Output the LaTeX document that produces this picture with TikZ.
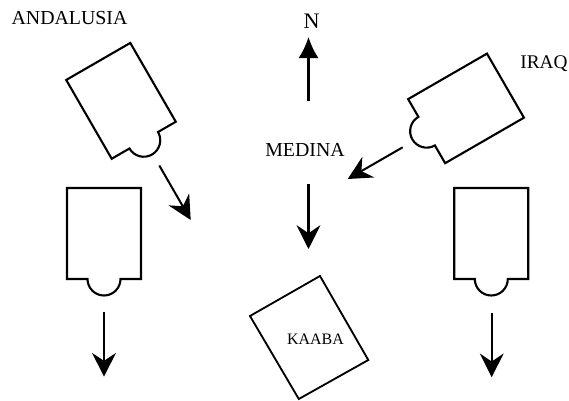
\documentclass[tikz,border=0pt]{standalone}
\usepackage{fontspec}
\setmainfont{Liberation Serif}
\usetikzlibrary{arrows.meta}
\tikzset{
    place name/.style = {
        inner sep = 0pt,
        font = \fontsize{#1}{#1}\selectfont
    },
    mosque/.pic = {
        \draw[line width=1.2pt, line join=miter] (-37,91) -- (37,91) -- (37,0) -- (16.5,0)
            arc (0:-180:16.5) -- (-37,0) -- cycle;
    },
    qibla/.style = {
        line width=1.15pt,
        -{Stealth[length=13.5pt, width=13.5pt, inset=4.5pt]}
    }
}

\begin{document}
\begin{tikzpicture}[x=0.02cm, y=0.02cm]
      \useasboundingbox (0,0) rectangle (569,400);

      \node (andalusia) at (69.5,382) [place name = 11.3] {ANDALUSIA};
      \node (iraq) at (544,336) [place name = 11] {IRAQ};
      \node (medina) at (305,250) [place name = 11.3] {MEDINA};
      \node (north) at (311.5,379) [place name = 12.6] {N};

      \pic[rotate=30] at (143.75,259.75) {mosque};
      \pic[rotate=-60] at (426.65,268.85) {mosque};
      \pic at (104,121) {mosque};
      \pic at (491.3,121) {mosque};

      \draw[line width=1.05pt] (320,124) -- (368.3,40) -- (298.8,1) -- (250,84) -- cycle;
      \node (kaaba) at (315.5,61) [place name = 9.1] {KAABA};

      \coordinate (north start) at (308.5,299);
      \coordinate (north end) at (308.5,363);
      \coordinate (medina start) at (308.5,216);
      \coordinate (medina end) at (308.5,151);
      \coordinate (andalusia start) at (159.3,234.5);
      \coordinate (andalusia end) at (190.7,180);
      \coordinate (iraq start) at (402.7,252.7);
      \coordinate (iraq end) at (347.7,221);
      \coordinate (left start) at (104,88.3);
      \coordinate (left end) at (104,23.3);
      \coordinate (right start) at (491.7,87.3);
      \coordinate (right end) at (491.7,22.7);

      \draw[line width=1.15pt, -{Latex[length=12pt, width=11.5pt]}] (north start) -- (north end);
      \draw[qibla] (medina start) -- (medina end);
      \draw[qibla] (andalusia start) -- (andalusia end);
      \draw[qibla] (iraq start) -- (iraq end);
      \draw[qibla] (left start) -- (left end);
      \draw[qibla] (right start) -- (right end);
\end{tikzpicture}
\end{document}
